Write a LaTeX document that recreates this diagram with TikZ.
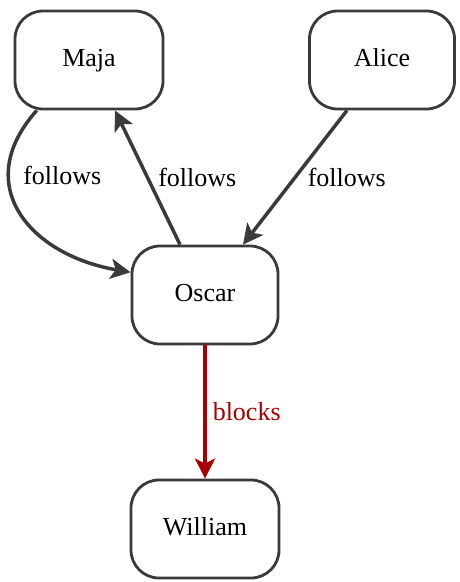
\documentclass[tikz,border=0pt]{standalone}
\usepackage{fontspec}
\setmainfont{Liberation Serif}
\usetikzlibrary{arrows.meta,calc}

\definecolor{edgegray}{RGB}{58,58,58}
\definecolor{blockred}{RGB}{168,0,0}

\begin{document}
\begin{tikzpicture}[x=1pt,y=-1pt,
        person/.style={draw=edgegray, line width=2.8pt, rounded corners=28pt,
            minimum width=148pt, minimum height=98pt, text height=18pt, text depth=6pt,
            font=\fontsize{26}{30}\selectfont},
        follow/.style={draw=edgegray, line width=3.5pt, -{Stealth[length=20pt,width=20pt,inset=5pt]}},
        block/.style={draw=blockred, line width=3.5pt, -{Stealth[length=20pt,width=20pt,inset=5pt]}},
        lbl/.style={font=\fontsize{26}{30}\selectfont, inner sep=2pt}]
        \useasboundingbox (0,0) rectangle (459,582);

        % Draw the people
        \node[person] (maja) at (89,60) {Maja};
        \node[person, minimum width=145pt] (alice) at (382,60) {Alice};
        \node[person, minimum width=146pt] (oscar) at (205,295) {Oscar};
        \node[person] (william) at (205,529) {William};

        % Draw the follows edges
        \draw[follow] (maja.224) .. controls (-30,185) and (30,255) .. (oscar.163)
            node[lbl, pos=.3, anchor=west, xshift=11pt] {follows};
        \draw[follow] ($(oscar.north)+(-25,0)$) -- ($(maja.south)+(26,0)$)
            node[lbl, pos=.5, right=7pt] {follows};
        \draw[follow] ($(alice.south)+(-35,0)$) -- ($(oscar.north)+(38,0)$)
            node[lbl, pos=.5, right=9pt] {follows};

        % Draw the blocks edge
        \draw[block] (oscar) -- (william) node[lbl, midway, right=4pt, text=blockred] {blocks};
    \end{tikzpicture}
\end{document}
